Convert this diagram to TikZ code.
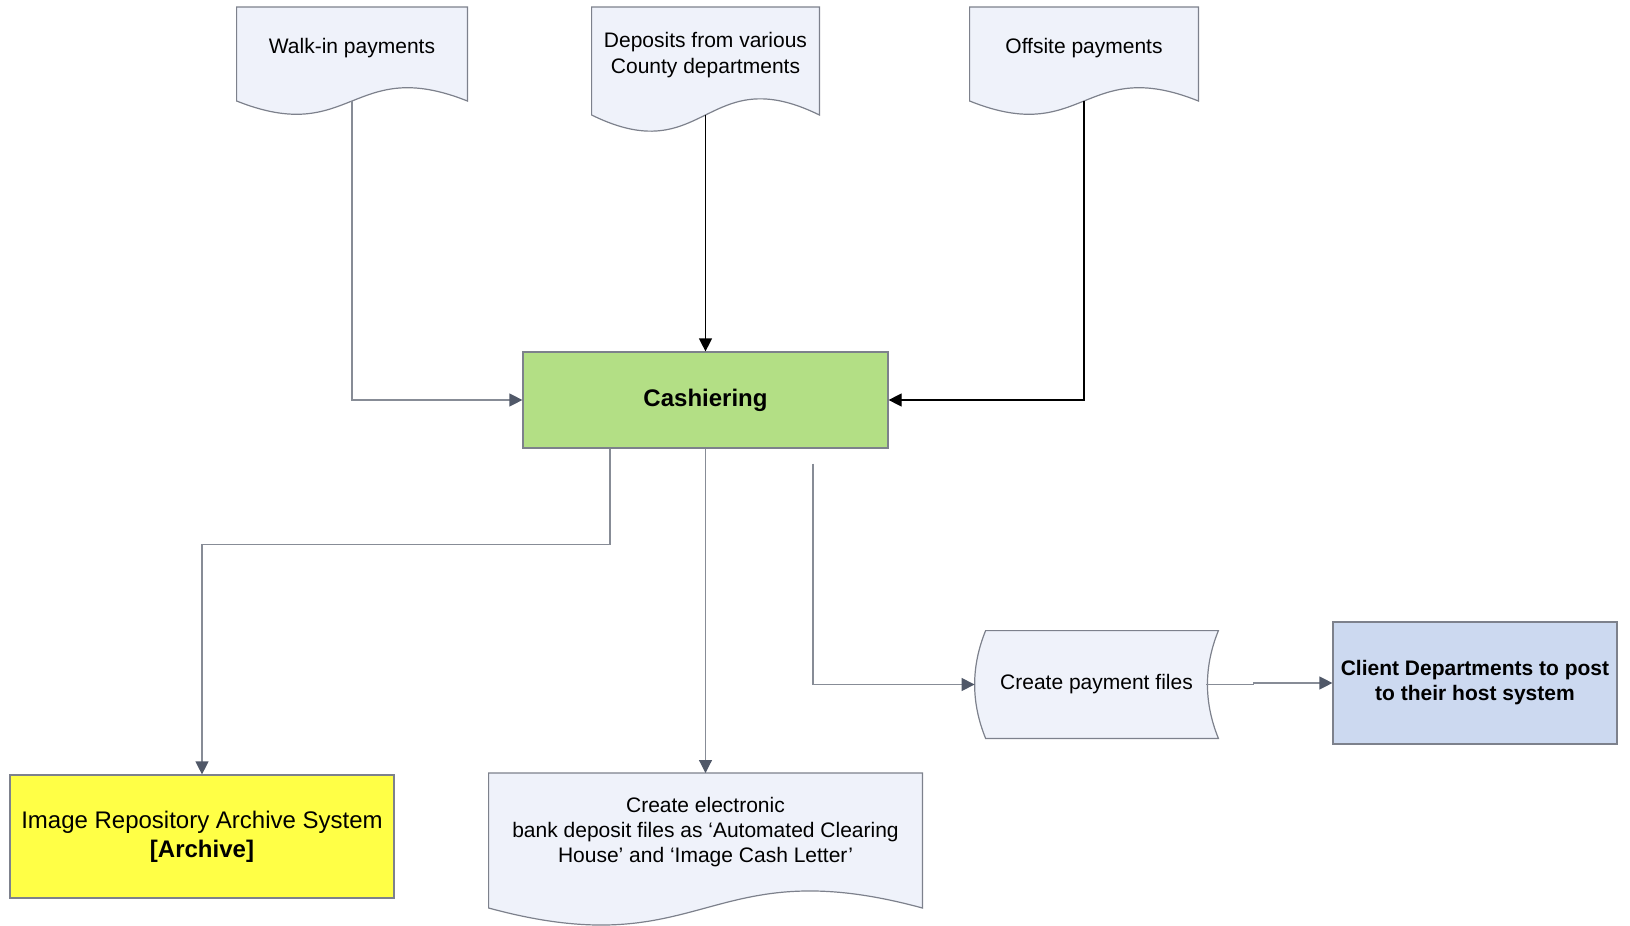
\documentclass[tikz,border=0pt]{standalone}
\usepackage{fontspec}
\setmainfont{Liberation Sans}
\usetikzlibrary{arrows.meta,positioning,calc}

\definecolor{docfill}{RGB}{239,242,250}
\definecolor{cashgreen}{RGB}{179,223,133}
\definecolor{archyellow}{RGB}{255,255,70}
\definecolor{clientblue}{RGB}{204,217,240}
\definecolor{edgegray}{RGB}{125,129,140}
\definecolor{linegray}{RGB}{135,140,150}
\definecolor{tipgray}{RGB}{80,88,104}

\pgfdeclarelayer{background}
\pgfsetlayers{background,main}

\begin{document}
\begin{tikzpicture}[x=0.5pt, y=-0.5pt,
  every node/.style={font=\fontsize{10.5}{13}\selectfont, align=center, inner sep=0pt},
  docbox/.style={anchor=north},
  procbox/.style={draw=edgegray, line width=0.6pt},
  docline/.style={draw=edgegray, fill=docfill, line width=0.6pt},
  garrow/.style={-{Triangle[length=6.5pt,width=6.5pt,color=tipgray]}, draw=linegray, line width=0.6pt},
  barrow/.style={-{Triangle[length=6.5pt,width=6.5pt]}, draw=black, line width=0.6pt}]
\useasboundingbox (0,0) rectangle (1630,926);

% incoming payment documents
\node[docbox, minimum width=115pt, minimum height=41pt] (walk) at (352,7) {Walk-in payments};
\node[docbox, minimum width=113.5pt, minimum height=47.5pt] (dep) at (705.5,7) {Deposits from various\\County departments};
\node[docbox, minimum width=114pt, minimum height=41pt] (off) at (1084,7) {Offsite payments};

% main process
\node[procbox, fill=cashgreen, minimum width=182.5pt, minimum height=48pt,
  font=\fontsize{12}{14}\selectfont\bfseries] (cash) at (705.5,400) {Cashiering};

% outputs
\node[procbox, fill=archyellow, minimum width=192pt, minimum height=61.5pt,
  font=\fontsize{12}{14.5}\selectfont] (arch) at (202,836.5) {Image Repository Archive System\\\textbf{[Archive]}};
\node[docbox, minimum width=216.5pt, minimum height=59pt,
  font=\fontsize{10.5}{12.5}\selectfont] (elec) at (705.5,773) {Create electronic\\bank deposit files as ‘Automated Clearing\\House’ and ‘Image Cash Letter’};
\node[minimum width=121.5pt, minimum height=53.5pt] (pay) at (1096.5,684.5) {Create payment files};
\node[procbox, fill=clientblue, minimum width=142pt, minimum height=61pt,
  font=\fontsize{10.5}{12.5}\selectfont\bfseries] (client) at (1475,683) {Client Departments to post\\to their host system};

% document outlines with wavy bottoms
\begin{pgfonlayer}{background}
\foreach \n/\d/\k in {walk/94/23pt, dep/108/28pt, off/94/23pt, elec/135/29.5pt}{
  \coordinate (\n-b) at ($(\n.north)+(0,\d)$);
  \draw[docline] (\n.north west) -- (\n.north east) -- ++(0,\d)
    .. controls ($(\n-b)+(0,\k)$) and ($(\n-b)+(0,-\k)$) .. ($(\n.north west)+(0,\d)$) -- cycle;
}
% stored data shape
\draw[docline] ($(pay.north west)+(11,0)$) -- (pay.north east)
  .. controls +(-7.3pt,-18pt) and +(-7.3pt,18pt) .. (pay.south east)
  -- ($(pay.south west)+(11,0)$)
  .. controls +(-7.3pt,18pt) and +(-7.3pt,-18pt) .. ($(pay.north west)+(11,0)$) -- cycle;
\end{pgfonlayer}

% connectors
\coordinate (payout) at ($(cash.south)+(107.5,15)$);
\draw[garrow] (walk-b) |- (cash.west);
\draw[barrow] (dep-b) -- (cash.north);
\draw[barrow] (off-b) |- (cash.east);
\draw[garrow] ($(cash.south)+(-95.5,0)$) -- ++(0,96) -| (arch.north);
\draw[garrow] (cash.south) -- (elec.north);
\draw[garrow] (payout) |- (pay.west);
\draw[garrow] ($(pay.east)+(-12,0)$) -- ++(47,0) |- (client.west);
\end{tikzpicture}
\end{document}
